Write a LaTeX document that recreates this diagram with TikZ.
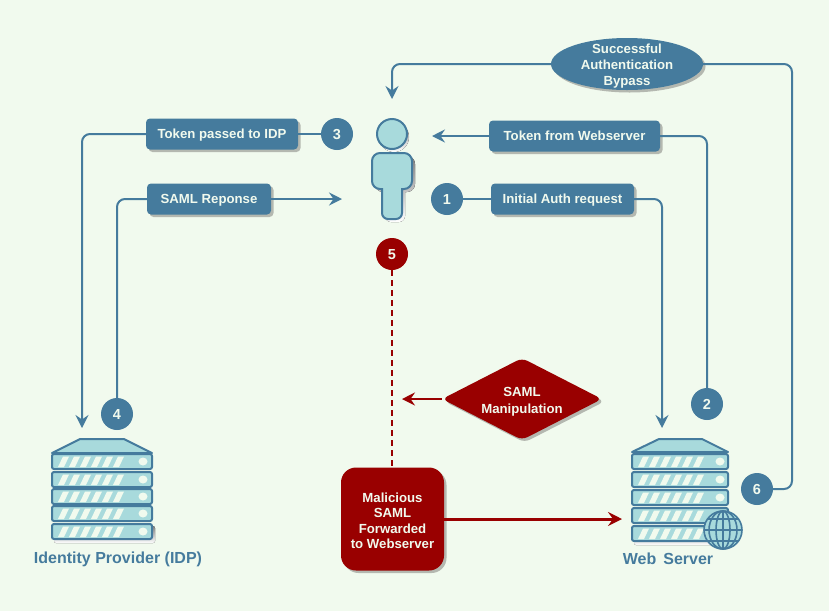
\documentclass[tikz,border=0pt]{standalone}
\usepackage{fontspec}
\setmainfont{Liberation Sans}
\usetikzlibrary{arrows.meta,shapes.geometric,shadows}
\definecolor{bgc}{HTML}{F1FAEE}
\definecolor{steel}{HTML}{457B9D}
\definecolor{pale}{HTML}{A8DADC}
\definecolor{crim}{HTML}{990000}
\definecolor{shade}{HTML}{B4B8B0}
\tikzset{
  shad/.style={drop shadow={shadow xshift=2.5pt,shadow yshift=-2.5pt,opacity=1,fill=shade}},
  txt/.style={font=\fontsize{13.2}{15.5}\selectfont\bfseries,text=bgc,align=center,inner sep=0pt},
  oneline/.style={text height=10pt,text depth=1pt},
  bluebox/.style={txt,oneline,rectangle,rounded corners=4pt,fill=steel,shad,minimum height=31pt},
  redbox/.style={txt,rectangle,rounded corners=15pt,fill=crim,shad},
  numdot/.style={txt,font=\fontsize{14.5}{16}\selectfont\bfseries,text height=10.5pt,text depth=0pt,circle,fill=steel,minimum size=32pt},
  reddot/.style={numdot,fill=crim},
  lab/.style={font=\fontsize{16}{19}\selectfont\bfseries,text=steel,inner sep=0pt},
  conn/.style={draw=steel,line width=2pt,rounded corners=8pt},
  tip/.style={-{Stealth[length=13pt,width=13pt,inset=4.5pt]}},
  redconn/.style={draw=crim,line width=2pt},
  part/.style={draw=steel,line width=2pt,fill=pale}
}
\newcommand{\slot}[4]{% left, right, top y, dot x
  \draw[part,rounded corners=2pt] (#1,#3) rectangle (#2,#3+15);
  \foreach \k in {0,...,5}
    \fill[bgc] (#1+6+11*\k,#3+13) -- (#1+12+11*\k,#3+13) -- (#1+17+11*\k,#3+2.5) -- (#1+11+11*\k,#3+2.5) -- cycle;
  \fill[bgc] (#4,#3+7.5) ellipse (4.5 and 4);
}
\begin{document}
\begin{tikzpicture}[x=1pt,y=-1pt]
\useasboundingbox (0,0) rectangle (829,611);
\fill[bgc] (0,0) rectangle (829,611);

% person
\fill[shade] (405,192) [rounded corners=8pt] -- (415,192) -- (415,156) -- (375,156) -- (375,192) [sharp corners] -- (385,192) [rounded corners=6pt] -- (385,222) -- (405,222) [sharp corners] -- (405,192) -- cycle;
\fill[shade] (394,137) circle (15);
\draw[part] (392,134) circle (15);
\draw[part] (402,189) [rounded corners=8pt] -- (412,189) -- (412,153) -- (372,153) -- (372,189) [sharp corners] -- (382,189) [rounded corners=6pt] -- (382,219) -- (402,219) [sharp corners] -- (402,189) -- cycle;
\coordinate (userTop) at (392,99);
\coordinate (userRightUp) at (432,136);
\coordinate (userLeft) at (342,199);
\coordinate (midDash) at (402,399);

% IDP server
\fill[shade,rounded corners=2pt] (54,526) rectangle (155,543);
\draw[part,line join=round] (80,439) -- (124,439) -- (152,453) -- (52,453) -- cycle;
\foreach \y in {454,472,489,506,524} {\slot{52}{152}{\y}{143}}
\coordinate (idpTop) at (82,428);

% Web server
\fill[shade,rounded corners=2pt] (634,528) rectangle (730,545);
\draw[part,line join=round] (659,439) -- (702,439) -- (728,452) -- (632,452) -- cycle;
\foreach \y in {454,472,490,508,526} {\slot{632}{728}{\y}{720}}
\coordinate (webTop) at (662,428);
\coordinate (webLeft) at (622,519);
\begin{scope}[draw=steel,line width=1.6pt]
\filldraw[fill=pale] (723,530) circle (19);
\draw (723,530) ellipse (7 and 19);
\draw (723,530) ellipse (14 and 19);
\draw (723,511) -- (723,549);
\draw (704,530) -- (742,530);
\draw (708,519) -- (738,519);
\draw (708,541) -- (738,541);
\end{scope}

\node[lab] (idpLabel) at (118,559) {Identity Provider (IDP)};
\node[lab] (webLabel) at (668,559) {Web\hskip 7pt Server};

% boxes
\node[bluebox,minimum width=152pt] (tokenIdp) at (222,134) {Token passed to IDP};
\node[bluebox,minimum width=124pt] (samlResp) at (209,199) {SAML Reponse};
\node[bluebox,minimum width=171pt] (tokenWeb) at (574.5,136) {Token from Webserver};
\node[bluebox,minimum width=143pt] (initAuth) at (562.5,199) {Initial Auth request};
\node[txt,font=\fontsize{13.2}{16}\selectfont\bfseries,ellipse,fill=steel,shad,inner ysep=-7pt,minimum width=152pt,minimum height=52pt] (bypass) at (627,64) {\rule{0pt}{14.5pt}Successful\\Authentication\\Bypass};
\node[txt,font=\fontsize{13.2}{17}\selectfont\bfseries,diamond,fill=crim,shad,rounded corners=6pt,minimum width=160pt,minimum height=82pt,aspect=2] (manip) at (522,399) {\rule{0pt}{14.5pt}SAML\\Manipulation};
\node[redbox,minimum width=103pt,minimum height=103pt] (malicious) at (392.5,519) {\rule{0pt}{13.5pt}Malicious\\SAML\\Forwarded\\to Webserver};

% numbered dots
\node[numdot] (n3) at (337,134) {3};
\node[numdot] (n1) at (447,199) {1};
\node[reddot] (n5) at (392,254) {5};
\node[numdot] (n4) at (117,414) {4};
\node[numdot] (n2) at (707,404) {2};
\node[numdot] (n6) at (757,489) {6};

% connectors
\draw[conn,tip] (bypass.west) -| (userTop);
\draw[conn] (bypass.east) -- (792,64) -- (792,489) -- (n6.east);
\draw[conn,tip] (tokenWeb.west) -- (userRightUp);
\draw[conn] (tokenWeb.east) -| (n2.north);
\draw[conn] (n1.east) -- (initAuth.west);
\draw[conn,tip] (initAuth.east) -| (webTop);
\draw[conn] (n3.west) -- (tokenIdp.east);
\draw[conn,tip] (tokenIdp.west) -| (idpTop);
\draw[conn,tip] (samlResp.east) -- (userLeft);
\draw[conn] (samlResp.west) -| (n4.north);
\draw[redconn,dash pattern=on 6pt off 4pt] (n5.south) -- (n5.south |- malicious.north);
\draw[redconn,tip] (manip.west) -- (midDash);
\draw[redconn,line width=3pt,-{Stealth[length=14pt,width=14pt,inset=5pt]}] (malicious.east) -- (webLeft);
\end{tikzpicture}
\end{document}
